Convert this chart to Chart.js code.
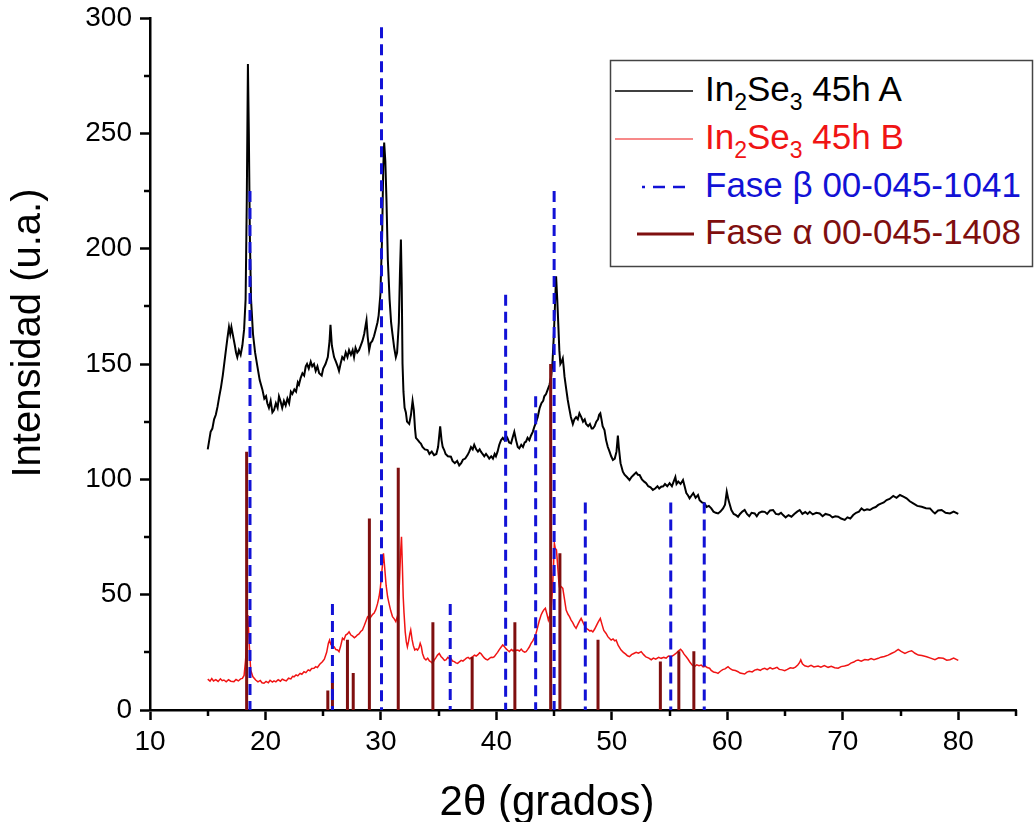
<!DOCTYPE html>
<html>
<head>
<meta charset="utf-8">
<title>DRX In2Se3 45h</title>
<script src="https://cdn.jsdelivr.net/npm/chart.js@4.4.1/dist/chart.umd.min.js"></script>
<style>
  html, body { margin: 0; padding: 0; background: #fff; }
  #wrap { position: relative; width: 1035px; height: 822px; }
  #xrd { position: absolute; left: 0; top: 0; }
  #overlay { position: absolute; left: 0; top: 0; pointer-events: none; }
  #overlay text { font-family: "Liberation Sans", Arial, sans-serif; }
</style>
</head>
<body>
<div id="wrap">
  <canvas id="xrd" width="1035" height="822"></canvas>
  <svg id="overlay" width="1035" height="822" xmlns="http://www.w3.org/2000/svg">
    <!-- axis titles -->
    <text x="547" y="815" font-size="42" text-anchor="middle" fill="#000">2θ (grados)</text>
    <text x="0" y="0" font-size="40" text-anchor="middle" fill="#000"
          transform="translate(40 333) rotate(-90)">Intensidad (u.a.)</text>
    <!-- legend -->
    <rect x="610.5" y="60.5" width="422" height="206" fill="#fff" stroke="#444" stroke-width="1.5"/>
    <line x1="615" y1="91" x2="693" y2="91" stroke="#000" stroke-width="1.5"/>
    <text x="705" y="101" font-size="35" fill="#000">In<tspan dy="9" font-size="23">2</tspan><tspan dy="-9">Se</tspan><tspan dy="9" font-size="23">3</tspan><tspan dy="-9"> 45h A</tspan></text>
    <line x1="615" y1="139" x2="693" y2="139" stroke="#f01414" stroke-width="1.2"/>
    <text x="705" y="149" font-size="35" fill="#f01414">In<tspan dy="9" font-size="23">2</tspan><tspan dy="-9">Se</tspan><tspan dy="9" font-size="23">3</tspan><tspan dy="-9"> 45h B</tspan></text>
    <line x1="642" y1="187" x2="693" y2="187" stroke="#1212d6" stroke-width="2.5" stroke-dasharray="3,8,12,8,12,10"/>
    <text x="705" y="197" font-size="35" fill="#1212d6">Fase β 00-045-1041</text>
    <line x1="637" y1="234" x2="694" y2="234" stroke="#7f0f0f" stroke-width="3"/>
    <text x="705" y="244" font-size="35" fill="#7f0f0f">Fase α 00-045-1408</text>
  </svg>
</div>
<script>
// muestra A (2theta, intensidad)
const patternA = [
  [15.0,113],[15.1,116],[15.25,120.6],[15.4,122],[15.55,126],[15.7,128],[15.85,131.5],[16.0,136],
  [16.15,140],[16.3,145],[16.4,149],[16.55,155],[16.7,161],[16.84,166],[16.95,163],[17.05,166],
  [17.2,162],[17.35,158],[17.45,155],[17.56,153],[17.7,156],[17.85,154],[18.0,158],[18.15,165],
  [18.28,178],[18.38,220],[18.48,280],[18.56,250],[18.65,205],[18.75,178],[18.92,163],[19.1,155],
  [19.3,149],[19.5,143],[19.73,139],[19.9,135],[20.05,136],[20.16,133],[20.3,131],[20.45,134],
  [20.6,129],[20.74,130],[20.9,133],[21.05,131],[21.17,136],[21.3,134],[21.45,131],[21.6,134],
  [21.75,132],[21.9,135],[22.05,133],[22.2,138],[22.33,137],[22.5,139],[22.65,138],[22.8,142],
  [22.9,141],[23.05,144],[23.2,146],[23.35,145],[23.49,149],[23.6,150],[23.75,148],[23.92,151],
  [24.05,149],[24.2,150],[24.35,147],[24.5,149],[24.65,146],[24.87,145],[25.0,148],[25.2,150],
  [25.4,153],[25.55,160],[25.63,167],[25.75,158],[25.94,153],[26.1,151],[26.25,149],[26.37,147],
  [26.5,150],[26.65,153],[26.8,152],[26.95,155],[27.1,153],[27.24,156],[27.4,154],[27.55,156],
  [27.67,153],[27.8,157],[27.95,155],[28.1,156],[28.25,158],[28.4,160],[28.55,163],[28.68,167],
  [28.75,169],[28.85,162],[28.98,156],[29.1,159],[29.25,160],[29.4,162],[29.55,165],[29.7,168],
  [29.8,171],[29.95,180],[30.1,205],[30.2,235],[30.28,246],[30.38,238],[30.48,221],[30.6,195],
  [30.75,178],[30.88,168],[31.0,163],[31.15,157],[31.29,153],[31.4,155],[31.55,168],[31.65,190],
  [31.73,204],[31.8,185],[31.87,150],[31.95,138],[32.05,131],[32.16,129],[32.26,125],[32.45,124],
  [32.6,128],[32.74,134],[32.85,130],[32.95,122],[33.03,118],[33.2,117],[33.35,116],[33.46,115.5],
  [33.6,114],[33.8,113],[34.04,112.7],[34.2,111],[34.4,112],[34.6,110.5],[34.8,111],[34.95,114],
  [35.13,123],[35.25,117],[35.35,114],[35.48,112.7],[35.6,111],[35.8,110],[36.06,109.8],[36.2,108],
  [36.4,107],[36.6,108],[36.78,106],[36.95,107],[37.1,108.5],[37.3,109],[37.5,110.5],[37.65,112],
  [37.8,114],[37.95,113],[38.08,115],[38.25,113],[38.4,112],[38.55,113],[38.66,112],[38.8,111],
  [38.95,110],[39.1,111],[39.25,110],[39.38,109],[39.55,110],[39.7,109],[39.85,111],[39.96,110],
  [40.1,112],[40.25,115],[40.4,117],[40.55,118],[40.7,117],[40.83,119],[40.95,118],[41.1,116],
  [41.27,115.6],[41.4,118],[41.55,120.6],[41.7,117],[41.85,114],[41.98,113.4],[42.15,115],[42.3,114],
  [42.45,116],[42.56,116.3],[42.7,118],[42.85,117],[43.0,119],[43.15,120.6],[43.3,123],[43.45,125],
  [43.58,127],[43.75,131],[43.9,133],[44.05,134],[44.15,136],[44.3,137],[44.45,139],[44.6,141],
  [44.74,144.5],[44.85,150],[44.97,162],[45.07,175],[45.17,188],[45.27,178],[45.37,166],[45.45,156],
  [45.54,150],[45.65,151],[45.75,152.4],[45.82,149],[45.9,144.5],[46.05,139],[46.18,134.4],[46.3,131],
  [46.45,127],[46.62,124],[46.75,126],[46.9,127],[47.05,126],[47.19,128.6],[47.35,127],[47.5,125],
  [47.65,126],[47.77,124],[47.95,123],[48.1,124],[48.25,122],[48.35,122],[48.5,123],[48.65,125],
  [48.8,126],[48.9,128],[49.0,128.6],[49.1,126],[49.2,123],[49.36,121.4],[49.5,117],[49.65,114],
  [49.8,112],[49.94,110],[50.09,108.4],[50.25,109],[50.4,112],[50.52,119],[50.6,114],[50.75,107],
  [50.95,103.3],[51.1,102],[51.3,101],[51.53,99.7],[51.7,101],[51.9,102],[52.1,103],[52.25,102],
  [52.4,101.9],[52.6,100],[52.8,99],[52.97,98.3],[53.15,97],[53.35,96.5],[53.55,95.4],[53.75,96],
  [53.95,97],[54.1,96],[54.27,96.8],[54.45,97],[54.6,98],[54.8,97],[55.0,98.3],[55.2,97],
  [55.35,99],[55.5,101],[55.6,98],[55.75,99],[55.95,98],[56.16,99.7],[56.3,97],[56.45,94],
  [56.6,93],[56.73,91.8],[56.9,93],[57.05,94],[57.25,92],[57.46,93.2],[57.6,91],[57.8,90],
  [58.03,89.6],[58.2,88],[58.4,88.5],[58.61,87.4],[58.8,86],[59.0,85.5],[59.2,85.2],[59.4,86],
  [59.63,87.4],[59.8,89],[59.95,94.6],[60.1,91],[60.35,86.7],[60.55,85],[60.75,84.5],[60.93,83.8],
  [61.1,85],[61.3,86],[61.5,86.7],[61.7,85],[61.9,84],[62.1,85.5],[62.37,85.2],[62.55,84],
  [62.75,85.5],[63.0,86],[63.24,85.9],[63.45,85],[63.7,86.5],[63.96,86.7],[64.2,85],[64.45,84.8],
  [64.65,85.5],[64.83,84.5],[65.05,83.5],[65.3,84.5],[65.55,83.8],[65.8,85],[66.05,86],[66.27,86.7],
  [66.5,85],[66.75,85.8],[66.95,85],[67.14,85.9],[67.4,84.8],[67.7,85.5],[68.0,85.2],[68.25,84],
  [68.5,85],[68.87,84.5],[69.1,83.5],[69.35,84],[69.6,83.8],[69.85,83],[70.17,82.4],[70.4,83.5],
  [70.65,83],[70.9,84.5],[71.15,85.5],[71.4,86],[71.62,87.4],[71.85,86.5],[72.1,87],[72.34,86.7],
  [72.6,87.5],[72.85,88],[73.07,88.9],[73.3,89.5],[73.55,90],[73.79,91],[74.05,91.5],[74.37,92.8],
  [74.65,92],[74.95,93.2],[75.25,92.5],[75.52,91.8],[75.8,90.5],[76.1,89.6],[76.45,88.5],[76.83,88.1],
  [77.2,87.5],[77.55,87.4],[77.8,86],[77.98,85.2],[78.25,86.5],[78.56,86.7],[78.9,85.5],[79.28,85.2],
  [79.6,86],[80.0,85]
];

// muestra B
const patternB = [
  [15.0,13.4],[15.2,12.5],[15.35,13.6],[15.5,12.6],[15.7,13.2],[15.9,12.4],[16.1,13.5],[16.25,12.7],
  [16.4,13],[16.6,12.2],[16.8,13.1],[17.0,12.5],[17.27,12.3],[17.45,13.2],[17.65,12.6],[17.85,13.5],
  [18.0,13.7],[18.15,15],[18.28,21.7],[18.4,34],[18.48,41.2],[18.58,30],[18.72,17.3],[18.9,14.5],
  [19.15,13],[19.35,12.2],[19.55,12.8],[19.7,11.8],[19.87,11.6],[20.05,12.4],[20.25,11.8],[20.4,12.9],
  [20.6,12.1],[20.74,12.6],[20.9,12.2],[21.1,13.1],[21.3,12.5],[21.45,13.4],[21.6,13],[21.8,12.6],
  [22.0,13.8],[22.2,13.5],[22.35,14.6],[22.47,14.4],[22.65,15.2],[22.8,14.8],[23.0,15.9],[23.15,15.5],
  [23.34,16.6],[23.5,16.2],[23.7,17.4],[23.85,17],[24.0,18],[24.2,18.1],[24.35,18.8],[24.5,18.4],
  [24.7,19.8],[24.93,20.9],[25.1,22],[25.3,25],[25.45,29],[25.55,30.3],[25.65,28.5],[25.8,27.5],
  [25.94,27.4],[26.1,26.2],[26.25,26],[26.37,25.3],[26.5,27.5],[26.67,31.1],[26.8,30.5],[26.95,32.5],
  [27.1,33],[27.24,33.9],[27.4,32.5],[27.55,32],[27.7,31.3],[27.82,31.8],[27.95,32.5],[28.1,33],
  [28.25,34],[28.4,34.7],[28.55,36.5],[28.7,38.5],[28.84,40.4],[29.0,39.5],[29.15,40.5],[29.28,41.5],
  [29.4,41.9],[29.55,43.5],[29.7,46],[29.84,49.1],[29.95,53],[30.08,60],[30.22,67.9],[30.32,62],
  [30.45,54],[30.58,49],[30.7,46.2],[30.85,43],[31.0,40.5],[31.15,39.5],[31.29,38.3],[31.45,41],
  [31.6,55],[31.7,68],[31.78,75.1],[31.86,62],[31.93,49],[32.0,42],[32.1,34],[32.2,29.5],
  [32.29,27.4],[32.4,30],[32.5,33],[32.58,34.7],[32.7,30.5],[32.8,28],[32.93,26],[33.05,26.5],
  [33.17,26],[33.3,27],[33.4,28.9],[33.5,27.5],[33.6,24.5],[33.75,22.4],[33.9,21.7],[34.05,22.5],
  [34.2,21.3],[34.33,20.9],[34.47,20.2],[34.6,21.5],[34.75,22.6],[34.9,23.8],[35.05,24.5],[35.2,23.2],
  [35.35,22.4],[35.5,21.5],[35.63,21.7],[35.8,22.8],[35.95,22.2],[36.06,22.4],[36.2,21.2],[36.35,21],
  [36.5,20.4],[36.64,20.2],[36.8,20.9],[36.95,21.5],[37.1,21.2],[37.22,21.7],[37.4,22.5],[37.55,22.8],
  [37.7,22.2],[37.94,23.1],[38.1,23.8],[38.25,23.4],[38.4,24],[38.55,24.8],[38.66,24.5],[38.8,23.5],
  [38.95,22.6],[39.1,22],[39.24,21.7],[39.4,22.4],[39.55,22.9],[39.7,22.8],[39.82,23.1],[39.95,24],
  [40.1,25],[40.25,26.2],[40.4,27.2],[40.55,28.2],[40.7,27.4],[40.85,26.5],[41.0,25.8],[41.12,25.3],
  [41.3,26.2],[41.45,25.6],[41.6,26.4],[41.75,25.8],[41.85,26],[42.0,25.6],[42.15,26.4],[42.3,25.5],
  [42.45,25.1],[42.57,25.3],[42.7,26.2],[42.85,27.3],[43.0,28.9],[43.15,30],[43.3,31.5],[43.43,33.2],
  [43.55,35.5],[43.7,38.5],[43.87,41.2],[44.0,42.5],[44.12,43.5],[44.24,44.1],[44.38,41.5],[44.5,39],
  [44.62,41],[44.74,43.3],[44.85,52],[44.95,63],[45.02,72.3],[45.1,70],[45.2,69.4],[45.3,63],
  [45.4,56],[45.46,53.4],[45.6,53.5],[45.75,52.7],[45.9,48],[46.04,43.3],[46.2,41.5],[46.33,40.5],
  [46.47,39],[46.6,38],[46.75,36.5],[46.9,35.4],[47.05,37],[47.2,38.5],[47.34,39.7],[47.5,38],
  [47.65,36.5],[47.77,35.4],[47.95,34.8],[48.1,34.2],[48.2,34.5],[48.35,33.9],[48.5,35],[48.65,36.5],
  [48.8,38],[49.0,39.7],[49.15,37],[49.3,34.5],[49.5,33.2],[49.65,31.8],[49.8,31],[49.94,30.3],
  [50.1,30.8],[50.25,30],[50.37,30.3],[50.55,28],[50.8,26],[51.0,25],[51.2,24.2],[51.35,23.5],
  [51.53,23.1],[51.7,24],[51.9,24.5],[52.1,25],[52.3,24.6],[52.54,25.3],[52.75,24],[52.95,23],
  [53.2,22.5],[53.41,21.8],[53.6,22.5],[53.8,22],[54.05,22.8],[54.27,22.4],[54.5,22.8],[54.7,22.5],
  [54.9,23.4],[55.14,23.1],[55.35,23.8],[55.55,24.5],[55.75,25.5],[55.95,26.3],[56.1,25.5],[56.25,24.2],
  [56.44,23.1],[56.6,22],[56.75,20.8],[56.95,19.5],[57.16,18.8],[57.35,19.6],[57.55,19.2],[57.74,19.5],
  [57.9,18.7],[58.1,19],[58.25,18.4],[58.46,18.1],[58.6,17.2],[58.8,16.5],[59.0,16.3],[59.19,15.9],
  [59.4,16.8],[59.6,17.5],[59.8,17.8],[60.06,18.8],[60.25,17.9],[60.45,17.3],[60.7,17.1],[60.93,16.6],
  [61.1,16],[61.3,15.8],[61.5,15.6],[61.7,16.4],[61.9,16.8],[62.15,16.5],[62.37,17.3],[62.6,17.6],
  [62.85,17.2],[63.05,17.8],[63.24,18.1],[63.45,17.5],[63.7,18.4],[63.9,17.8],[64.1,18.1],[64.3,18.5],
  [64.5,17.6],[64.75,17.4],[64.97,17],[65.2,17.6],[65.45,18.3],[65.7,18.1],[65.9,18.6],[66.1,19.5],
  [66.25,20.5],[66.36,21.7],[66.5,20],[66.7,19.2],[67.0,18.8],[67.25,19.4],[67.5,18.7],[67.86,19.1],
  [68.1,18.6],[68.4,19.3],[68.73,18.5],[69.0,18.9],[69.3,18.3],[69.6,18.1],[69.85,18.8],[70.15,19.1],
  [70.46,19.5],[70.7,20.3],[70.95,20.8],[71.15,21.4],[71.33,21.7],[71.6,21.2],[71.9,21.9],[72.2,21.7],
  [72.45,22.3],[72.7,21.8],[73.07,22.4],[73.3,22.9],[73.6,23.2],[73.93,23.8],[74.2,24.5],[74.5,25.2],
  [74.8,26.3],[75.05,25.4],[75.38,24.5],[75.7,25.3],[75.96,25.7],[76.25,24.6],[76.54,23.8],[76.85,23.6],
  [77.26,23.1],[77.6,22.5],[77.98,21.8],[78.3,22.6],[78.7,22.4],[79.0,21.6],[79.28,21.8],[79.6,22.5],
  [80.0,21.5]
];

// patrones de referencia
const betaPos = [18.66, 25.8, 30.05, 36.0, 40.8, 43.4, 45.0, 47.7, 55.1, 58.0];
const betaInt = [225, 46, 296, 46, 180, 136, 225, 90, 90, 90];
const alphaPos = [18.37, 25.4, 25.8, 27.1, 27.6, 29.0, 31.5, 34.5, 37.9, 41.6, 44.7, 45.5, 48.8, 54.2, 55.8, 57.1];
const alphaInt = [112, 8.5, 15.5, 30.5, 16, 83, 105, 38, 23, 38, 150, 68, 30.5, 21, 25.5, 25.5];

const xMinor = [15, 25, 35, 45, 55, 65, 75, 85];
const yMinor = [25, 75, 125, 175, 225, 275];

const FONT = '"Liberation Sans", Arial, sans-serif';

// each stick: top -> baseline, then a gap
function sticks(pos, vals) {
  var pts = [];
  pos.forEach(function (p, i) {
    pts.push({x: p, y: vals[i]}, {x: p, y: 0}, {x: p, y: null});
  });
  return pts;
}

// minor tick marks, drawn off the chart's own scales
var minorTicks = {
  id: 'minorTicks',
  afterDraw: function (chart) {
    var ctx = chart.ctx, xs = chart.scales.x, ys = chart.scales.y;
    ctx.save();
    ctx.strokeStyle = '#000';
    ctx.lineWidth = 2.5;
    xMinor.forEach(function (v) {
      var px = Math.round(xs.getPixelForValue(v));
      ctx.beginPath();
      ctx.moveTo(px, xs.top);
      ctx.lineTo(px, xs.top + 6);
      ctx.stroke();
    });
    yMinor.forEach(function (v) {
      var py = Math.round(ys.getPixelForValue(v));
      ctx.beginPath();
      ctx.moveTo(ys.right, py);
      ctx.lineTo(ys.right - 6, py);
      ctx.stroke();
    });
    ctx.restore();
  }
};

new Chart(document.getElementById('xrd'), {
  type: 'line',
  data: {
    datasets: [
      { label: 'In2Se3 45h A', data: patternA, borderColor: '#000', borderWidth: 2, order: 4 },
      { label: 'In2Se3 45h B', data: patternB, borderColor: '#f01414', borderWidth: 1.5, order: 3 },
      { label: 'Fase α 00-045-1408', data: sticks(alphaPos, alphaInt), borderColor: '#7f0f0f', borderWidth: 3, order: 2 },
      { label: 'Fase β 00-045-1041', data: sticks(betaPos, betaInt), borderColor: '#1212d6', borderWidth: 3,
        borderDash: [11, 6], order: 1 }
    ]
  },
  options: {
    responsive: false,
    animation: false,
    spanGaps: false,
    layout: { padding: { top: 18, right: 19, bottom: 0, left: 0 } },
    elements: {
      point: { radius: 0, hoverRadius: 0 },
      line: { tension: 0, fill: false, borderCapStyle: 'butt' }
    },
    plugins: { legend: { display: false }, tooltip: { enabled: false } },
    scales: {
      x: {
        type: 'linear', min: 10, max: 85,
        afterFit: function (s) { s.height = 112; s.paddingLeft = 0; s.paddingRight = 0; },
        ticks: { stepSize: 10, includeBounds: false, color: '#000', padding: 5,
                 maxRotation: 0, autoSkip: false, font: { family: FONT, size: 28 } },
        grid: { drawOnChartArea: false, tickLength: 10, tickWidth: 2.5, tickColor: '#000' },
        border: { color: '#000', width: 2.5 }
      },
      y: {
        min: 0, max: 300,
        afterFit: function (s) { s.width = 150; s.paddingTop = 0; s.paddingBottom = 0; },
        ticks: { stepSize: 50, color: '#000', padding: 8, font: { family: FONT, size: 28 } },
        grid: { drawOnChartArea: false, tickLength: 10, tickWidth: 2.5, tickColor: '#000' },
        border: { color: '#000', width: 2.5 }
      }
    }
  },
  plugins: [minorTicks]
});
</script>
</body>
</html>
